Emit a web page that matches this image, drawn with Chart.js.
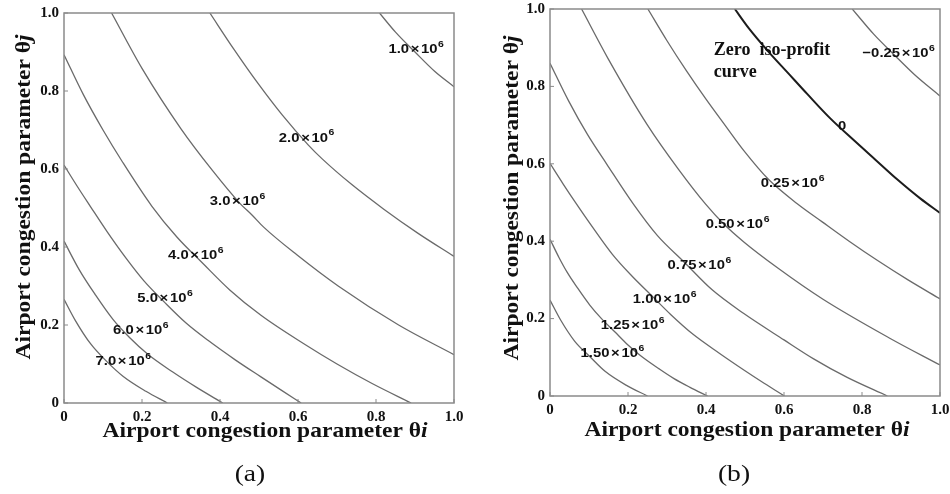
<!DOCTYPE html>
<html>
<head>
<meta charset="utf-8">
<script src="https://cdn.jsdelivr.net/npm/chart.js@4.4.1/dist/chart.umd.min.js"></script>
<style>
html, body { margin: 0; padding: 0; background: #fff; }
#wrap { position: relative; width: 950px; height: 494px; overflow: hidden; }
canvas { position: absolute; top: 0; }
#chartA { left: 0; }
#chartB { left: 475px; }
.cap { position: absolute; top: 460px; width: 100px; line-height: 28px; text-align: center;
       font: 24px "Liberation Serif", "Times New Roman", serif; color: #111; transform: scaleX(1.15); }
</style>
</head>
<body>
<div id="wrap">
  <canvas id="chartA" width="475" height="494"></canvas>
  <canvas id="chartB" width="475" height="494"></canvas>
  <div class="cap" style="left:200px">(a)</div>
  <div class="cap" style="left:684px">(b)</div>
</div>
<script>
// axis ticks (same for both panels)
var tickValues = [0, 0.2, 0.4, 0.6, 0.8, 1.0];
var tickLabels = ['0', '0.2', '0.4', '0.6', '0.8', '1.0'];

// panel (a): iso-profit curves, points [theta_i, theta_j]
var levelsA = ['1.0', '2.0', '3.0', '4.0', '5.0', '6.0', '7.0'];
var curveA1 = [[0.809, 1.0], [0.85, 0.951], [0.9, 0.9], [0.951, 0.85], [1.0, 0.811]];
var curveA2 = [[0.374, 1.0], [0.435, 0.908], [0.497, 0.82], [0.56, 0.738], [0.626, 0.662], [0.662, 0.626], [0.738, 0.56], [0.82, 0.497], [0.908, 0.435], [1.0, 0.376]];
var curveA3 = [[0.122, 1.0], [0.2, 0.858], [0.3, 0.703], [0.38, 0.597], [0.451, 0.512], [0.482, 0.482], [0.512, 0.451], [0.597, 0.38], [0.703, 0.3], [0.858, 0.2], [1.0, 0.124]];
var curveA4 = [[0, 0.893], [0.05, 0.79], [0.1, 0.70], [0.15, 0.618], [0.225, 0.505], [0.29, 0.425], [0.357, 0.357], [0.425, 0.29], [0.505, 0.225], [0.618, 0.15], [0.70, 0.1], [0.79, 0.05], [0.89, 0]];
var curveA5 = [[0, 0.61], [0.033, 0.557], [0.067, 0.505], [0.11, 0.44], [0.16, 0.37], [0.205, 0.313], [0.258, 0.258], [0.313, 0.205], [0.37, 0.16], [0.44, 0.11], [0.505, 0.067], [0.557, 0.033], [0.608, 0]];
var curveA6 = [[0, 0.415], [0.04, 0.34], [0.08, 0.278], [0.125, 0.215], [0.168, 0.168], [0.215, 0.125], [0.278, 0.08], [0.34, 0.04], [0.407, 0]];
var curveA7 = [[0, 0.266], [0.03, 0.21], [0.068, 0.152], [0.108, 0.108], [0.152, 0.068], [0.21, 0.03], [0.265, 0]];
var labelXA = [0.903, 0.622, 0.445, 0.338, 0.259, 0.197, 0.152];
var labelYA = [0.908, 0.68, 0.518, 0.378, 0.269, 0.186, 0.108];

// panel (b)
var levelsB = ['\u22120.25', '0', '0.25', '0.50', '0.75', '1.00', '1.25', '1.50'];
var curveBm25 = [[0.775, 1.0], [0.83, 0.935], [0.882, 0.882], [0.935, 0.83], [1.0, 0.775]];
var curveB0 = [[0.474, 1.0], [0.51, 0.95], [0.56, 0.89], [0.61, 0.835], [0.66, 0.78], [0.718, 0.718], [0.78, 0.66], [0.835, 0.61], [0.89, 0.56], [0.95, 0.51], [1.0, 0.473]];
var curveB25 = [[0.251, 1.0], [0.3, 0.918], [0.35, 0.84], [0.4, 0.767], [0.45, 0.698], [0.497, 0.634], [0.56, 0.56], [0.634, 0.497], [0.698, 0.45], [0.767, 0.4], [0.84, 0.35], [0.918, 0.3], [1.0, 0.251]];
var curveB50 = [[0.081, 1.0], [0.15, 0.87], [0.25, 0.70], [0.33, 0.585], [0.398, 0.497], [0.445, 0.445], [0.497, 0.398], [0.585, 0.33], [0.70, 0.25], [0.87, 0.15], [1.0, 0.08]];
var curveB75 = [[0, 0.86], [0.048, 0.762], [0.096, 0.676], [0.145, 0.60], [0.213, 0.497], [0.275, 0.415], [0.345, 0.345], [0.415, 0.275], [0.497, 0.213], [0.60, 0.145], [0.676, 0.096], [0.762, 0.048], [0.865, 0]];
var curveB100 = [[0, 0.601], [0.033, 0.549], [0.066, 0.499], [0.11, 0.435], [0.16, 0.366], [0.21, 0.31], [0.26, 0.26], [0.31, 0.21], [0.366, 0.16], [0.435, 0.11], [0.499, 0.066], [0.549, 0.033], [0.601, 0]];
var curveB125 = [[0, 0.405], [0.023, 0.358], [0.045, 0.318], [0.07, 0.28], [0.102, 0.235], [0.132, 0.2], [0.166, 0.166], [0.2, 0.132], [0.235, 0.102], [0.28, 0.07], [0.318, 0.045], [0.358, 0.023], [0.404, 0]];
var curveB150 = [[0, 0.248], [0.028, 0.195], [0.063, 0.142], [0.102, 0.102], [0.142, 0.063], [0.195, 0.028], [0.25, 0]];
var labelXB = [0.894, 0.749, 0.622, 0.481, 0.383, 0.294, 0.212, 0.16];
var labelYB = [0.885, 0.696, 0.55, 0.444, 0.338, 0.25, 0.183, 0.11];

var serif = '"Liberation Serif", "Times New Roman", serif';
var sans = '"Liberation Sans", Arial, sans-serif';

function toPoints(arr) {
    return arr.map(function (p) { return { x: p[0], y: p[1] }; });
}

function curve(arr, dark) {
    return {
        data: toPoints(arr),
        showLine: true,
        borderColor: dark ? '#1c1c1c' : '#6a6a6a',
        borderWidth: dark ? 2 : 1.3,
        pointRadius: 0,
        cubicInterpolationMode: 'monotone'
    };
}

// number label like 2.0 x 10^6
function drawSci(ctx, cx, cy, mant) {
    var main = 'bold 13.5px ' + sans, sup = 'bold 9.5px ' + sans;
    ctx.save();
    ctx.translate(cx, cy);
    ctx.scale(1.1, 1);
    ctx.fillStyle = '#111';
    ctx.textBaseline = 'middle';
    ctx.textAlign = 'left';
    ctx.font = main;
    if (mant === '0') {
        ctx.textAlign = 'center';
        ctx.fillText('0', 0, 0);
        ctx.restore();
        return;
    }
    var w1 = ctx.measureText(mant).width, wx = ctx.measureText('\u00d7').width, w10 = ctx.measureText('10').width;
    ctx.font = sup;
    var w6 = ctx.measureText('6').width;
    var gap = 1.5, total = w1 + gap + wx + gap + w10 + 0.5 + w6;
    var x = -total / 2;
    ctx.font = main;
    ctx.fillText(mant, x, 0); x += w1 + gap;
    ctx.fillText('\u00d7', x, 0); x += wx + gap;
    ctx.fillText('10', x, 0); x += w10 + 0.5;
    ctx.font = sup;
    ctx.fillText('6', x, -5);
    ctx.restore();
}

// "Airport congestion parameter θ" + italic subscript letter
function drawTitle(ctx, cx, cy, sub, vertical) {
    var f = 'bold 21px ' + serif, fi = 'italic bold 21px ' + serif;
    var main = 'Airport congestion parameter \u03b8';
    ctx.save();
    ctx.translate(cx, cy);
    if (vertical) ctx.rotate(-Math.PI / 2);
    ctx.scale(1.12, 1);
    ctx.fillStyle = '#111';
    ctx.textBaseline = 'alphabetic';
    ctx.textAlign = 'left';
    ctx.font = f;
    var w = ctx.measureText(main).width;
    ctx.font = fi;
    var ws = ctx.measureText(sub).width;
    var x = -(w + ws) / 2;
    ctx.font = f;
    ctx.fillText(main, x, 0);
    ctx.font = fi;
    ctx.fillText(sub, x + w, 0);
    ctx.restore();
}

var decor = {
    id: 'decor',
    afterDatasetsDraw: function (chart, args, opts) {
        var ctx = chart.ctx, a = chart.chartArea, xs = chart.scales.x, ys = chart.scales.y;
        ctx.save();
        ctx.strokeStyle = '#8a8a8a';
        ctx.lineWidth = 1.5;
        ctx.strokeRect(a.left, a.top, a.right - a.left, a.bottom - a.top);
        ctx.lineWidth = 1;
        tickValues.forEach(function (t) {
            var px = xs.getPixelForValue(t), py = ys.getPixelForValue(t);
            ctx.beginPath(); ctx.moveTo(px, a.bottom); ctx.lineTo(px, a.bottom - 4); ctx.stroke();
            ctx.beginPath(); ctx.moveTo(a.left, py); ctx.lineTo(a.left + 4, py); ctx.stroke();
        });
        opts.levels.forEach(function (m, i) {
            drawSci(ctx, xs.getPixelForValue(opts.lx[i]), ys.getPixelForValue(opts.ly[i]), m);
        });
        if (opts.note) {
            ctx.fillStyle = '#111';
            ctx.font = 'bold 18px ' + serif;
            ctx.textAlign = 'left';
            ctx.textBaseline = 'alphabetic';
            var nx = xs.getPixelForValue(opts.note.x);
            ctx.fillText(opts.note.lines[0], nx, ys.getPixelForValue(opts.note.y[0]));
            ctx.fillText(opts.note.lines[1], nx, ys.getPixelForValue(opts.note.y[1]));
        }
        drawTitle(ctx, opts.xTitle[0], opts.xTitle[1], 'i', false);
        drawTitle(ctx, opts.yTitle[0], opts.yTitle[1], 'j', true);
        ctx.restore();
    }
};

function axes(yWidth) {
    var tickFont = { family: serif, size: 15, weight: 'bold' };
    var setTicks = function (s) { s.ticks = tickValues.map(function (v) { return { value: v }; }); };
    return {
        x: {
            type: 'linear', min: 0, max: 1,
            afterBuildTicks: setTicks,
            ticks: { callback: function (v, i) { return tickLabels[i]; }, font: tickFont, color: '#111', padding: 5, maxRotation: 0, autoSkip: false },
            grid: { display: false, drawTicks: false },
            border: { display: false },
            afterFit: function (s) { s.height = 30; s.paddingLeft = 0; s.paddingRight = 0; }
        },
        y: {
            type: 'linear', min: 0, max: 1,
            afterBuildTicks: setTicks,
            ticks: { callback: function (v, i) { return tickLabels[i]; }, font: tickFont, color: '#111', padding: 5, autoSkip: false },
            grid: { display: false, drawTicks: false },
            border: { display: false },
            afterFit: function (s) { s.width = yWidth; s.paddingTop = 0; s.paddingBottom = 0; }
        }
    };
}

try {
    // Panel (a)
    var ctxA = document.getElementById('chartA').getContext('2d');
    var chartA = new Chart(ctxA, {
        type: 'scatter',
        data: {
            datasets: [curveA1, curveA2, curveA3, curveA4, curveA5, curveA6, curveA7].map(function (c) { return curve(c, false); })
        },
        options: {
            responsive: false, animation: false, events: [],
            layout: { padding: { left: 0, top: 13, right: 21, bottom: 61 } },
            scales: axes(64),
            plugins: {
                legend: { display: false }, tooltip: { enabled: false },
                decor: { levels: levelsA, lx: labelXA, ly: labelYA, xTitle: [265, 437], yTitle: [30, 197] }
            }
        },
        plugins: [decor]
    });

    // Panel (b)
    var ctxB = document.getElementById('chartB').getContext('2d');
    var chartB = new Chart(ctxB, {
        type: 'scatter',
        data: {
            datasets: [curveBm25, curveB0, curveB25, curveB50, curveB75, curveB100, curveB125, curveB150].map(function (c, i) { return curve(c, i === 1); })
        },
        options: {
            responsive: false, animation: false, events: [],
            layout: { padding: { left: 0, top: 9, right: 10, bottom: 68 } },
            scales: axes(75),
            plugins: {
                legend: { display: false }, tooltip: { enabled: false },
                decor: {
                    levels: levelsB, lx: labelXB, ly: labelYB, xTitle: [272, 436], yTitle: [43, 198],
                    note: { lines: ['Zero  iso-profit', 'curve'], x: 0.42, y: [0.881, 0.824] }
                }
            }
        },
        plugins: [decor]
    });
} catch (error) {
    console.log(error);
}
</script>
</body>
</html>
